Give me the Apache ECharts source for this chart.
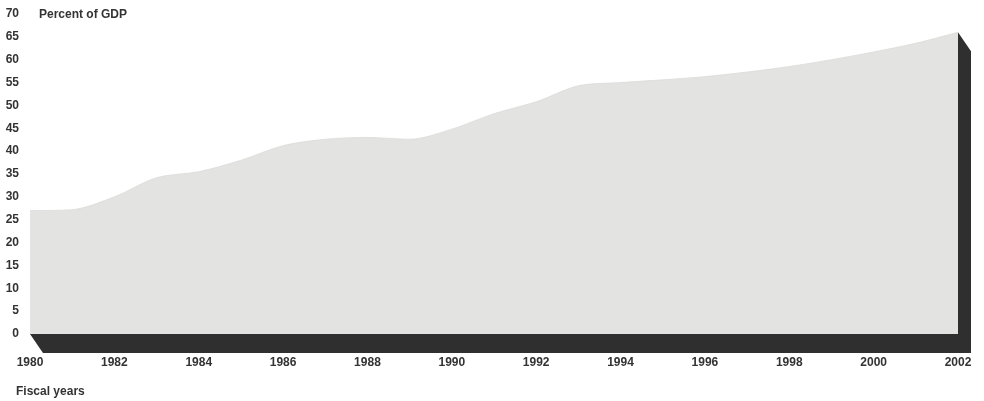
<!DOCTYPE html>
<html>
<head>
<meta charset="utf-8">
<style>
  html, body { margin: 0; padding: 0; background: #fff; }
  #chart { width: 984px; height: 401px; }
</style>
<script src="https://cdn.jsdelivr.net/npm/echarts@6/dist/echarts.min.js"></script>
</head>
<body>
<div id="chart"></div>
<script>
// Fiscal years and values (percent of GDP)
const years = [1980, 1981, 1982, 1983, 1984, 1985, 1986, 1987, 1988, 1989, 1990, 1991,
               1992, 1993, 1994, 1995, 1996, 1997, 1998, 1999, 2000, 2001, 2002];
const percentOfGdp = [27.0, 27.2, 30.0, 34.2, 35.5, 38.0, 41.2, 42.6, 43.0, 42.6, 44.8, 48.2,
                      50.8, 54.3, 55.0, 55.6, 56.3, 57.3, 58.5, 60.0, 61.7, 63.6, 66.0];
const yTicks = [0, 70, 5];        // min, max, step
const xTicks = [1980, 2002, 2];   // min, max, step

const seriesData = years.map((y, i) => [y, percentOfGdp[i]]);

// depth of the extruded slab, in pixels
const DEPTH_X = 13, DEPTH_Y = 19;
const labelFont = { fontFamily: 'Liberation Sans, Arial, sans-serif', fontWeight: 'bold', fontSize: 12, color: '#333333' };

const chart = echarts.init(document.getElementById('chart'));
chart.setOption({
  animation: false,
  backgroundColor: '#ffffff',
  grid: { left: 30, right: 26, top: 14, bottom: 67, containLabel: false },
  xAxis: {
    type: 'value', min: xTicks[0], max: xTicks[1], interval: xTicks[2],
    axisLine: { show: false }, axisTick: { show: false }, splitLine: { show: false },
    axisLabel: Object.assign({ margin: 23, formatter: v => String(v) }, labelFont)
  },
  yAxis: {
    type: 'value', min: yTicks[0], max: yTicks[1], interval: yTicks[2],
    axisLine: { show: false }, axisTick: { show: false }, splitLine: { show: false },
    axisLabel: Object.assign({ margin: 11, align: 'right' }, labelFont)
  },
  graphic: [
    { type: 'text', left: 39, top: 9, style: { text: 'Percent of GDP', fill: '#333333',
        font: 'bold 12px "Liberation Sans", Arial, sans-serif' } },
    { type: 'text', left: 16, top: 386, style: { text: 'Fiscal years', fill: '#333333',
        font: 'bold 12px "Liberation Sans", Arial, sans-serif' } }
  ],
  series: [
    {
      // dark side faces of the slab: bottom and right edges
      type: 'custom',
      z: 1,
      silent: true,
      data: [0],
      renderItem: (params, api) => {
        const first = years[0], last = years[years.length - 1];
        const b0 = api.coord([first, 0]);
        const b1 = api.coord([last, 0]);
        const t1 = api.coord([last, percentOfGdp[percentOfGdp.length - 1]]);
        return {
          type: 'polygon',
          shape: { points: [
            b0,
            [b0[0] + DEPTH_X, b0[1] + DEPTH_Y],
            [b1[0] + DEPTH_X, b1[1] + DEPTH_Y],
            [t1[0] + DEPTH_X, t1[1] + DEPTH_Y],
            t1,
            b1
          ] },
          style: { fill: '#2f2f2f' }
        };
      }
    },
    {
      type: 'line',
      z: 2,
      data: seriesData,
      smooth: 0.3,
      symbol: 'none',
      lineStyle: { width: 0.8, color: '#dadad8' },
      areaStyle: { color: '#e3e3e1', opacity: 1 }
    }
  ]
});
</script>
</body>
</html>
